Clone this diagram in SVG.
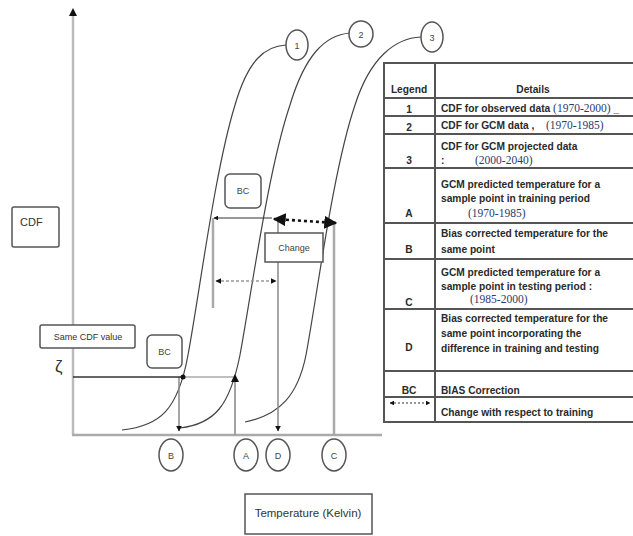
<svg xmlns="http://www.w3.org/2000/svg" width="633" height="536" viewBox="0 0 633 536">
<defs>
<style>
text{font-family:"Liberation Sans",Arial,sans-serif;fill:#333}
.t{font-size:10.2px;font-weight:bold;fill:#2a2a2a}
.yr{font-family:"Liberation Serif","Times New Roman",serif;font-size:11.5px;fill:#2b3a6e;font-weight:normal}
.lab{font-size:9px;text-anchor:middle;fill:#444}
.curve{fill:none;stroke:#444;stroke-width:1.2}
.vg{stroke:#aaa;stroke-width:2.5;fill:none}
.box{fill:#fff;stroke:#555;stroke-width:1.5}
.circ{fill:#fff;stroke:#555;stroke-width:1.5}
.grid{stroke:#555;stroke-width:2;fill:none}
</style>
<marker id="ah" viewBox="0 0 10 10" refX="9" refY="5" markerWidth="5" markerHeight="5" orient="auto-start-reverse"><path d="M0,0L10,5L0,10z" fill="#111"/></marker>
<marker id="ahb" viewBox="0 0 10 10" refX="9" refY="5" markerWidth="4" markerHeight="4" orient="auto-start-reverse"><path d="M0,0L10,5L0,10z" fill="#111"/></marker>
</defs>
<rect width="633" height="536" fill="#fff"/>

<g id="axes">
<line x1="73" y1="13" x2="73" y2="435" stroke="#bbb" stroke-width="2.5"/>
<path d="M69,16L73,8L77,16z" fill="#111"/>
<line x1="72" y1="435" x2="382" y2="435" stroke="#aaa" stroke-width="2.5"/>
</g>

<g id="curves">
<path class="curve" d="M122,430 C160,426 178,410 188,355 C200,290 215,170 235,105 C248,60 265,46 286,45"/>
<path class="curve" d="M180,428 C215,424 230,405 240,355 C252,290 268,170 290,105 C305,55 325,35 350,33"/>
<path class="curve" d="M245,422 C280,415 298,395 306,355 C318,290 333,170 355,105 C370,58 395,38 421,37"/>
</g>

<g id="connectors">
<line x1="213" y1="218" x2="213" y2="308" class="vg"/>
<line x1="278" y1="218" x2="278" y2="431" stroke="#888" stroke-width="1.5" marker-end="url(#ahb)"/>
<line x1="334" y1="224" x2="334" y2="435" class="vg"/>
<line x1="179" y1="377" x2="179" y2="431" stroke="#888" stroke-width="1.5" marker-end="url(#ahb)"/>
<line x1="235" y1="380" x2="235" y2="435" stroke="#999" stroke-width="1.8"/>
<line x1="73" y1="377" x2="183" y2="377" stroke="#333" stroke-width="1.5"/>
<line x1="183" y1="377" x2="235" y2="377" stroke="#aaa" stroke-width="1.5"/>
<circle cx="183" cy="377" r="2.5" fill="#111"/>
<path d="M231,382L235,374L239,382z" fill="#111"/>
<line x1="214" y1="218" x2="272" y2="218" stroke="#333" stroke-width="1.2" marker-start="url(#ahb)"/>
<line x1="274" y1="219" x2="336" y2="223" stroke="#111" stroke-width="2.6" stroke-dasharray="3,3" marker-start="url(#ah)" marker-end="url(#ah)"/>
<line x1="216" y1="281" x2="276" y2="281" stroke="#999" stroke-width="1.5" stroke-dasharray="3,2" marker-start="url(#ahb)" marker-end="url(#ahb)"/>
</g>

<g id="label-CDF">
<rect class="box" x="12" y="207" width="47" height="40" rx="2"/>
<text x="20" y="226" font-size="11" fill="#555">CDF</text>
</g>

<g id="label-same">
<rect class="box" x="40" y="325" width="95" height="23" rx="2"/>
<text x="88" y="340" font-size="9" text-anchor="middle" fill="#444">Same CDF value</text>
<text x="55" y="372" font-size="17" fill="#444">ζ</text>
</g>

<g id="bc-low">
<rect class="box" x="147" y="335" width="35" height="33" rx="5"/>
<text x="164.5" y="355" class="lab">BC</text>
</g>
<g id="bc-up">
<rect class="box" x="225" y="174" width="36" height="34" rx="5"/>
<text x="243" y="194" class="lab">BC</text>
</g>
<g id="change">
<rect class="box" x="265" y="233" width="58" height="29"/>
<text x="294" y="251" class="lab">Change</text>
</g>

<g id="c1"><ellipse class="circ" cx="297" cy="45" rx="11" ry="15"/><text x="297" y="48.5" class="lab">1</text></g>
<g id="c2"><ellipse class="circ" cx="361" cy="34" rx="12" ry="13"/><text x="361" y="37.5" class="lab">2</text></g>
<g id="c3"><ellipse class="circ" cx="432" cy="37" rx="11" ry="15"/><text x="432" y="40.5" class="lab">3</text></g>

<g id="cB"><ellipse class="circ" cx="171" cy="455" rx="12" ry="16"/><text x="171" y="458.5" class="lab">B</text></g>
<g id="cA"><ellipse class="circ" cx="246" cy="455" rx="12" ry="16"/><text x="246" y="458.5" class="lab">A</text></g>
<g id="cD"><ellipse class="circ" cx="278" cy="455" rx="12" ry="16"/><text x="278" y="458.5" class="lab">D</text></g>
<g id="cC"><ellipse class="circ" cx="334" cy="455" rx="12" ry="16"/><text x="334" y="458.5" class="lab">C</text></g>

<g id="label-temp">
<rect class="box" x="245" y="494" width="127" height="40"/>
<text x="308" y="517" font-size="11.5" text-anchor="middle" fill="#444">Temperature (Kelvin)</text>
</g>

<g id="legend">
<rect class="grid" x="384" y="63" width="260" height="359"/>
<line class="grid" x1="435" y1="63" x2="435" y2="422"/>
<line class="grid" x1="384" y1="98" x2="633" y2="98"/>
<line class="grid" x1="384" y1="116" x2="633" y2="116"/>
<line class="grid" x1="384" y1="134" x2="633" y2="134"/>
<line class="grid" x1="384" y1="168" x2="633" y2="168"/>
<line class="grid" x1="384" y1="223" x2="633" y2="223"/>
<line class="grid" x1="384" y1="259" x2="633" y2="259"/>
<line class="grid" x1="384" y1="309" x2="633" y2="309"/>
<line class="grid" x1="384" y1="371" x2="633" y2="371"/>
<line class="grid" x1="384" y1="397" x2="633" y2="397"/>

<g text-anchor="middle" class="t">
<text x="409" y="93" class="t" text-anchor="middle">Legend</text>
<text x="533" y="93" class="t" text-anchor="middle">Details</text>
<text x="409" y="113" class="t" text-anchor="middle">1</text>
<text x="409" y="131" class="t" text-anchor="middle">2</text>
<text x="409" y="164" class="t" text-anchor="middle">3</text>
<text x="409" y="217" class="t" text-anchor="middle">A</text>
<text x="409" y="253" class="t" text-anchor="middle">B</text>
<text x="409" y="306" class="t" text-anchor="middle">C</text>
<text x="409" y="351" class="t" text-anchor="middle">D</text>
<text x="409" y="394" class="t" text-anchor="middle">BC</text>
</g>
<line x1="390" y1="403" x2="430" y2="403" stroke="#333" stroke-width="1.2" stroke-dasharray="2,2" marker-start="url(#ahb)" marker-end="url(#ahb)"/>

<text x="441" y="112" class="t">CDF for observed data <tspan class="yr">(1970-2000)</tspan> _</text>
<text x="441" y="129" class="t">CDF for GCM data ,<tspan x="546" class="yr">(1970-1985)</tspan></text>
<text x="441" y="150" class="t">CDF for GCM projected data</text>
<text x="441" y="164" class="t">:<tspan x="475" class="yr">(2000-2040)</tspan></text>
<text x="441" y="188" class="t">GCM predicted temperature for a</text>
<text x="441" y="202" class="t">sample point in training period</text>
<text x="468" y="217" class="yr">(1970-1985)</text>
<text x="441" y="237" class="t">Bias corrected temperature for the</text>
<text x="441" y="253" class="t">same point</text>
<text x="441" y="276" class="t">GCM predicted temperature for a</text>
<text x="441" y="290" class="t">sample point in testing period :</text>
<text x="470" y="303" class="yr">(1985-2000)</text>
<text x="441" y="322" class="t">Bias corrected temperature for the</text>
<text x="441" y="337" class="t">same point incorporating the</text>
<text x="441" y="352" class="t">difference in training and testing</text>
<text x="441" y="394" class="t">BIAS Correction</text>
<text x="441" y="416" class="t">Change with respect to training</text>
</g>
</svg>
